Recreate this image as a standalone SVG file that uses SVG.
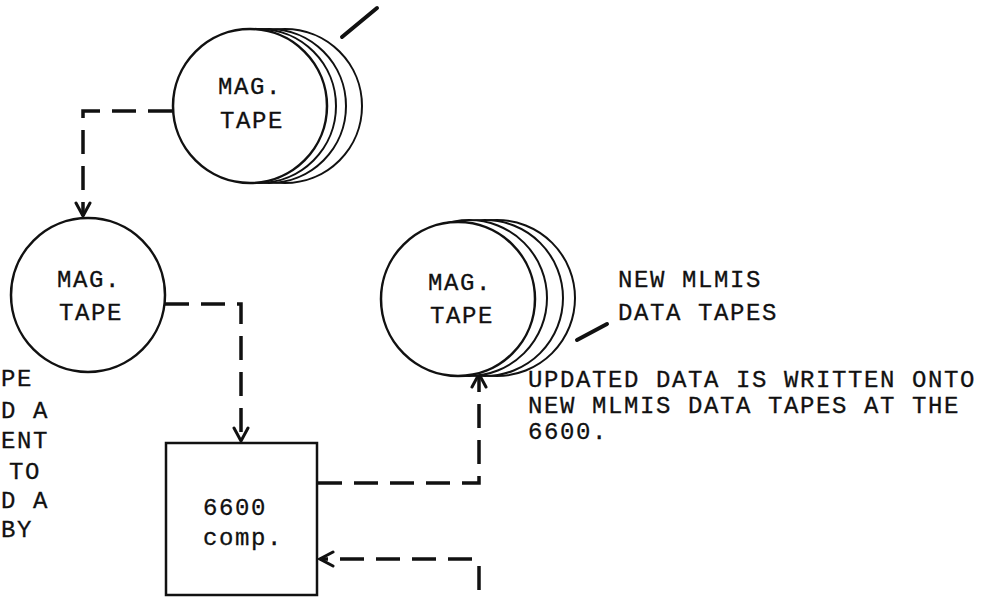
<svg xmlns="http://www.w3.org/2000/svg" width="990" height="597" viewBox="0 0 990 597">
<style>
.t{font-family:"Liberation Mono","DejaVu Sans Mono",monospace;font-size:24px;letter-spacing:1.6px;fill:#111;stroke:#111;stroke-width:0.3}
.c{fill:#fff;stroke:#111;stroke-width:2.5}
.r{fill:#fff;stroke:#111;stroke-width:2}
.d{fill:none;stroke:#111;stroke-width:3.5;stroke-dasharray:24 12}
.l{stroke:#111;stroke-width:4;stroke-linecap:round}
</style>
<defs>
<marker id="ah" viewBox="-15 -9 17 18" markerWidth="17" markerHeight="18" refX="0" refY="0" orient="auto" markerUnits="userSpaceOnUse">
<path d="M-13,-7 L0,0 L-13,7" fill="none" stroke="#111" stroke-width="3" stroke-linecap="round"/>
</marker>
</defs>
<rect width="990" height="597" fill="#fff"/>

<g id="connectors">
<path class="d" d="M172,111 H83 V216" marker-end="url(#ah)"/>
<path class="d" d="M165,304 H241 V441" marker-end="url(#ah)"/>
<path class="d" d="M318,483 H479 V374" marker-end="url(#ah)"/>
<path class="d" d="M479,590 V566"/>
<path class="d" d="M472,559 H320" marker-end="url(#ah)"/>
</g>

<g id="tape-top">
<circle class="r" cx="285" cy="106" r="77"/>
<circle class="r" cx="269" cy="106" r="77"/>
<circle class="r" cx="259" cy="106" r="77"/>
<circle class="c" cx="250" cy="106" r="77"/>
<text class="t" x="218" y="94">MAG.</text>
<text class="t" x="220" y="128">TAPE</text>
<line class="l" x1="342" y1="37" x2="377" y2="8"/>
</g>

<g id="tape-mid">
<circle class="c" cx="88" cy="295" r="77"/>
<text class="t" x="57" y="287">MAG.</text>
<text class="t" x="59" y="320">TAPE</text>
</g>

<g id="tape-new">
<circle class="r" cx="497" cy="298" r="78"/>
<circle class="r" cx="485" cy="298" r="78"/>
<circle class="r" cx="469" cy="298" r="78"/>
<circle class="c" cx="458" cy="299" r="77"/>
<text class="t" x="428" y="290">MAG.</text>
<text class="t" x="430" y="323">TAPE</text>
<line class="l" x1="577" y1="340" x2="607" y2="324"/>
<text class="t" x="618" y="287">NEW MLMIS</text>
<text class="t" x="618" y="320">DATA TAPES</text>
</g>

<g id="comp">
<rect x="166" y="443" width="151" height="152" fill="#fff" stroke="#111" stroke-width="2.5"/>
<text class="t" x="203" y="515">6600</text>
<text class="t" x="203" y="545">comp.</text>
</g>

<g id="note-right">
<text class="t" x="528" y="387">UPDATED DATA IS WRITTEN ONTO</text>
<text class="t" x="528" y="413">NEW MLMIS DATA TAPES AT THE</text>
<text class="t" x="528" y="439">6600.</text>
</g>

<g id="note-left">
<text class="t" x="1" y="386">PE</text>
<text class="t" x="1" y="418">D A</text>
<text class="t" x="1" y="448">ENT</text>
<text class="t" x="9" y="479">TO</text>
<text class="t" x="1" y="508">D A</text>
<text class="t" x="1" y="537">BY</text>
</g>
</svg>
